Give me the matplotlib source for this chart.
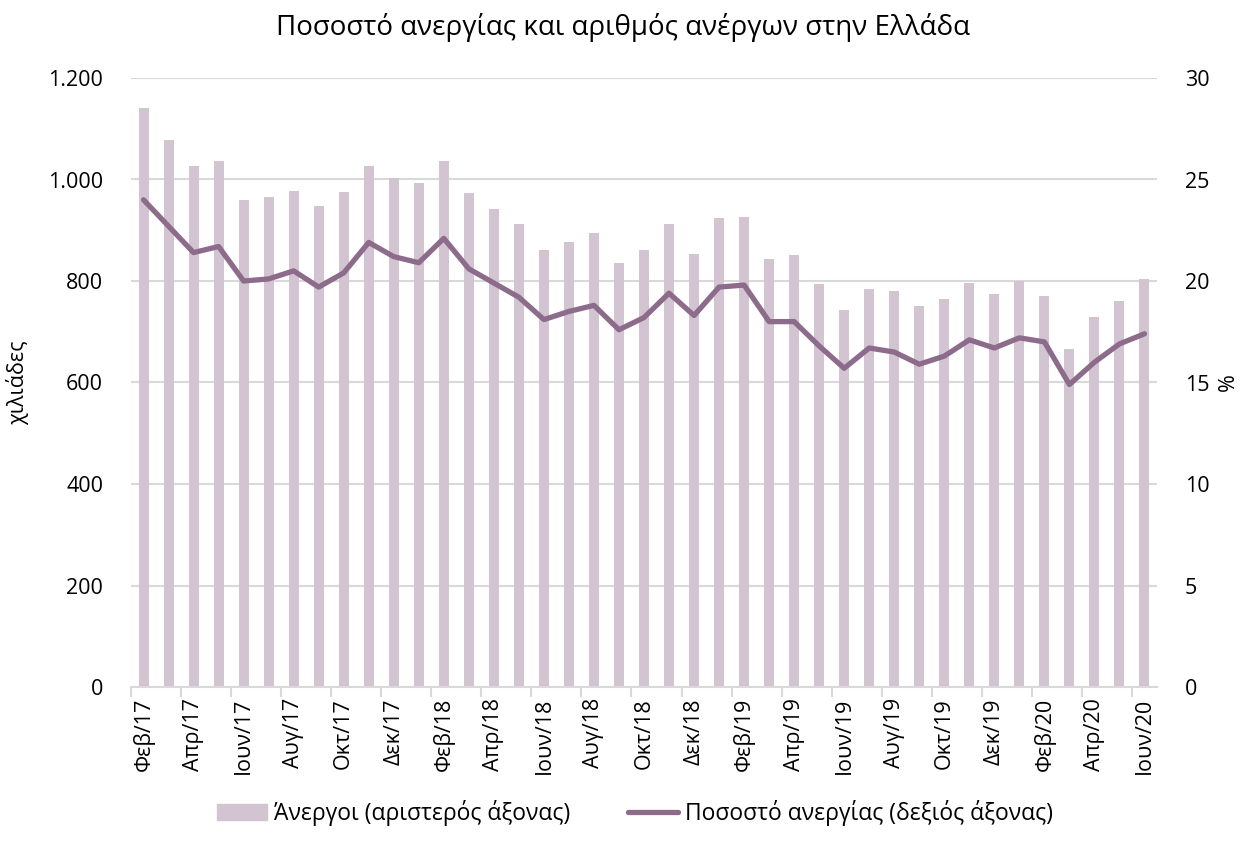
import matplotlib
matplotlib.use('Agg')
import matplotlib.pyplot as plt
import matplotlib.ticker as mticker
from matplotlib.patches import Patch
from matplotlib.lines import Line2D
import numpy as np

# Μήνες (Φεβ/17 - Ιουν/20)
month_names = ['Ιαν', 'Φεβ', 'Μαρ', 'Απρ', 'Μαϊ', 'Ιουν',
               'Ιουλ', 'Αυγ', 'Σεπ', 'Οκτ', 'Νοε', 'Δεκ']
months = []
for yr in range(17, 21):
    for m, name in enumerate(month_names):
        if (yr == 17 and m < 1) or (yr == 20 and m > 5):
            continue
        months.append('%s/%d' % (name, yr))

# Άνεργοι σε χιλιάδες (αριστερός άξονας)
unemployed = [1141, 1078, 1027, 1036, 960, 965, 977, 948, 975, 1027, 1003, 993,
              1036, 974, 941, 913, 862, 877, 895, 836, 862, 913, 854, 925,
              927, 844, 852, 794, 743, 784, 780, 751, 764, 796, 774, 800,
              770, 666, 729, 761, 804]

# Ποσοστό ανεργίας % (δεξιός άξονας)
rate = [24.0, 22.7, 21.4, 21.7, 20.0, 20.1, 20.5, 19.7, 20.4, 21.9, 21.2, 20.9,
        22.1, 20.6, 19.9, 19.2, 18.1, 18.5, 18.8, 17.6, 18.2, 19.4, 18.3, 19.7,
        19.8, 18.0, 18.0, 16.8, 15.7, 16.7, 16.5, 15.9, 16.3, 17.1, 16.7, 17.2,
        17.0, 14.9, 16.0, 16.9, 17.4]

bar_color = '#D3C4D2'
line_color = '#8C6B8B'
grid_color = '#D9D9D9'
font = ['Open Sans', 'DejaVu Sans']
plt.rcParams['font.family'] = font

fig = plt.figure(figsize=(12.45, 8.42), dpi=100)
ax = fig.add_axes([131 / 1245, 1 - 687 / 842, (1157 - 131) / 1245, (687 - 78) / 842])
ax2 = ax.twinx()

x = np.arange(len(months))
ax.bar(x, unemployed, width=0.4, color=bar_color, zorder=2)
ax2.plot(x, rate, color=line_color, lw=3.8, solid_capstyle='round',
         solid_joinstyle='round', zorder=3)

ax.set_xlim(-0.5, len(months) - 0.5)
ax.set_ylim(0, 1200)
ax2.set_ylim(0, 30)
ax.set_yticks(range(0, 1201, 200))
ax2.set_yticks(range(0, 31, 5))
ax.yaxis.set_major_formatter(mticker.FuncFormatter(
    lambda v, p: '{:,.0f}'.format(v).replace(',', '.')))
ax.grid(axis='y', color=grid_color, lw=1.5, zorder=0)
ax.set_axisbelow(True)

for a in (ax, ax2):
    for s in ('left', 'right', 'top'):
        a.spines[s].set_visible(False)
    a.spines['bottom'].set_color(grid_color)
    a.spines['bottom'].set_linewidth(1.5)
ax2.spines['bottom'].set_visible(False)

ax.set_xticks(x[::2])
ax.set_xticklabels(months[::2], rotation=90, fontsize=15.5)
ax.set_xticks(np.arange(-0.5, len(months) - 1, 2), minor=True)
ax.tick_params(axis='x', which='major', length=0, pad=8)
ax.tick_params(axis='x', which='minor', length=7, width=1.5, color=grid_color)
ax.tick_params(axis='y', length=0, labelsize=15.5, pad=20)
ax2.tick_params(axis='y', length=0, labelsize=15.5, pad=20)

ax.set_ylabel('χιλιάδες', fontsize=15.5, labelpad=14)
ax2.set_ylabel('%', fontsize=15.5, labelpad=6)

fig.suptitle('Ποσοστό ανεργίας και αριθμός ανέργων στην Ελλάδα',
             fontsize=20, y=0.985)

handles = [Patch(color=bar_color, label='Άνεργοι (αριστερός άξονας)'),
           Line2D([0], [0], color=line_color, lw=3.8, solid_capstyle='round',
                  label='Ποσοστό ανεργίας (δεξιός άξονας)')]
fig.legend(handles=handles, loc='lower center', ncol=2, frameon=False,
           fontsize=16.5, bbox_to_anchor=(0.51, -0.005), handlelength=2.2,
           handletextpad=0.3, columnspacing=2.5)

fig.savefig('out.png', dpi=100)
